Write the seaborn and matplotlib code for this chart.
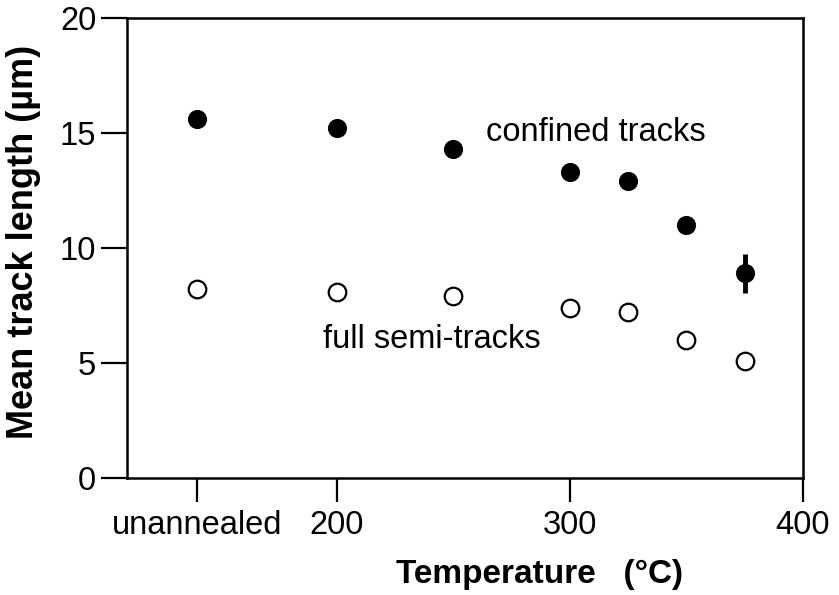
import seaborn as sns
import matplotlib.pyplot as plt
import pandas as pd

sns.set_style("ticks")
plt.rcParams['font.family'] = ['Liberation Sans', 'DejaVu Sans']
plt.rcParams['text.color'] = 'black'
plt.rcParams['xtick.color'] = 'black'
plt.rcParams['ytick.color'] = 'black'
plt.rcParams['axes.labelcolor'] = 'black'

# temperature positions (unannealed plotted at 140)
temps = [140, 200, 250, 300, 325, 350, 375]
confined = [15.6, 15.2, 14.3, 13.3, 12.9, 11.0, 8.9]
confined_err = [0, 0, 0, 0, 0, 0, 0.85]
semi = [8.2, 8.1, 7.9, 7.4, 7.2, 6.0, 5.1]

xticks = [140, 200, 300, 400]
xticklabels = ["unannealed", "200", "300", "400"]
yticks = [0, 5, 10, 15, 20]

df = pd.DataFrame({"temp": temps, "confined": confined, "err": confined_err, "semi": semi})

fig = plt.figure(figsize=(8.39, 5.95), dpi=100)
ax = fig.add_axes([0.151, 0.197, 0.806, 0.773])

err = df[df["err"] > 0]
ax.errorbar(err["temp"], err["confined"], yerr=err["err"], fmt='none',
            ecolor='black', elinewidth=3.5, capsize=0, zorder=1)
sns.scatterplot(x="temp", y="confined", data=df, ax=ax, color="black",
                s=190, edgecolor="black", linewidth=0, zorder=2)
sns.scatterplot(x="temp", y="semi", data=df, ax=ax, facecolor="white",
                s=160, edgecolor="black", linewidth=1.6, zorder=2)

ax.text(264, 15.0, "confined tracks", fontsize=23.5, va="center", ha="left")
ax.text(194, 6.0, "full semi-tracks", fontsize=23.5, va="center", ha="left")

ax.set_xlim(110, 400)
ax.set_ylim(0, 20)
ax.set_xticks(xticks)
ax.set_xticklabels(xticklabels)
ax.set_yticks(yticks)
ax.tick_params(axis="y", direction="out", length=19, width=1.6, labelsize=23.5, pad=3)
ax.tick_params(axis="x", direction="out", length=17, width=1.6, labelsize=23.5, pad=6)
for s in ax.spines.values():
    s.set_linewidth(1.8)
    s.set_color("black")

ax.set_xlabel("Temperature   (°C)", fontsize=24, fontweight="bold", va="center")
ax.set_ylabel("Mean track length (µm)", fontsize=26, fontweight="bold", va="center")
ax.xaxis.set_label_coords(0.61, -0.21)
ax.yaxis.set_label_coords(-0.152, 0.513)

plt.savefig("out.png", dpi=100)
